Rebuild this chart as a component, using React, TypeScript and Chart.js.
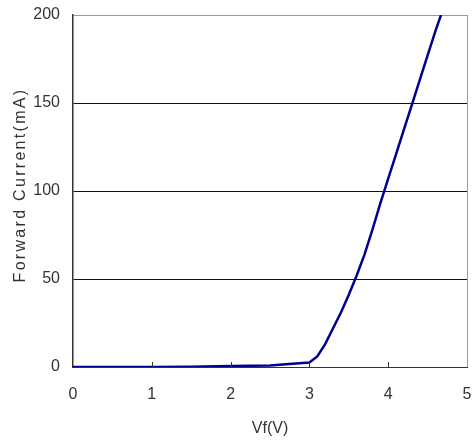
import React, { useEffect, useRef } from 'react';
import { Chart, registerables } from 'chart.js';
Chart.register(...registerables);

const voltage = [0, 0.5, 1.0, 1.5, 2.0, 2.5, 2.7, 3.0, 3.1, 3.2, 3.3, 3.4, 3.5, 3.6, 3.7, 3.8, 3.9, 4.0, 4.1, 4.2, 4.3, 4.4, 4.5, 4.6, 4.67];
const current = [0, 0, 0, 0.2, 0.5, 0.9, 1.5, 2.5, 6, 13, 22, 31, 41, 52, 64, 78, 93, 107, 121, 135, 149, 163, 177, 191, 200];
const xTicks = [0, 1, 2, 3, 4, 5];
const yTicks = [0, 50, 100, 150, 200];
const xTitle = 'Vf(V)';
const yTitle = 'Forward Current(mA)';

const FONT = "'Liberation Sans', Arial, sans-serif";
const TEXT = '#333333';

export default function App() {
  const ref = useRef<HTMLCanvasElement>(null);
  useEffect(() => {
    document.body.style.margin = '0';
    const extras = {
      id: 'extras',
      afterDatasetsDraw(chart: any) {
        const { ctx, chartArea, scales } = chart;
        const x = scales.x;
        ctx.save();
        ctx.strokeStyle = '#333';
        ctx.lineWidth = 1;
        for (const v of xTicks.slice(1, -1)) {
          const px = Math.round(x.getPixelForValue(v)) + 0.5;
          ctx.beginPath();
          ctx.moveTo(px, chartArea.bottom);
          ctx.lineTo(px, chartArea.bottom - 5);
          ctx.stroke();
        }
        ctx.restore();
        ctx.save();
        ctx.translate(21, (chartArea.top + chartArea.bottom) / 2 - 6);
        ctx.rotate(-Math.PI / 2);
        ctx.font = `16px ${FONT}`;
        ctx.fillStyle = TEXT;
        ctx.textAlign = 'center';
        ctx.textBaseline = 'middle';
        (ctx as any).letterSpacing = '2.3px';
        ctx.fillText(yTitle, 0, 0);
        ctx.restore();
      },
    };
    const zeroPad = (s: any) => {
      s.paddingLeft = 0;
      s.paddingRight = 0;
      s.paddingTop = 0;
      s.paddingBottom = 0;
    };
    const chart = new Chart(ref.current!, {
      type: 'line',
      data: {
        datasets: [
          {
            data: voltage.map((v, i) => ({ x: v, y: current[i] })),
            borderColor: '#00008f',
            borderWidth: 2.5,
            pointRadius: 0,
            tension: 0,
            fill: false,
          },
        ],
      },
      options: {
        animation: false,
        responsive: false,
        layout: { padding: { left: 0, right: 5, top: 15, bottom: 0 } },
        plugins: { legend: { display: false }, tooltip: { enabled: false } },
        scales: {
          x: {
            type: 'linear',
            min: 0,
            max: 5,
            afterBuildTicks: (s: any) => { s.ticks = xTicks.map((v) => ({ value: v })); },
            afterFit: (s: any) => { s.height = 75; zeroPad(s); },
            grid: {
              drawTicks: false,
              color: (c: any) => (c.tick && c.tick.value === 5 ? '#999' : 'rgba(0,0,0,0)'),
            },
            border: { display: true, color: '#333', width: 1 },
            ticks: { padding: 18, color: TEXT, font: { family: FONT, size: 16 }, maxRotation: 0 },
            title: { display: true, text: xTitle, color: TEXT, font: { family: FONT, size: 16 }, padding: { top: 0, bottom: 4 } },
          },
          y: {
            type: 'linear',
            min: 0,
            max: 200,
            afterBuildTicks: (s: any) => { s.ticks = yTicks.map((v) => ({ value: v })); },
            afterFit: (s: any) => { s.width = 73; zeroPad(s); },
            grid: {
              drawTicks: false,
              color: (c: any) => (c.tick && c.tick.value === 200 ? '#999' : '#111'),
            },
            border: { display: true, color: '#333', width: 1.5 },
            ticks: { padding: 13, color: TEXT, font: { family: FONT, size: 16 } },
          },
        },
      },
      plugins: [extras],
    });
    return () => chart.destroy();
  }, []);
  return <canvas ref={ref} width={472} height={442} style={{ display: 'block' }} />;
}
